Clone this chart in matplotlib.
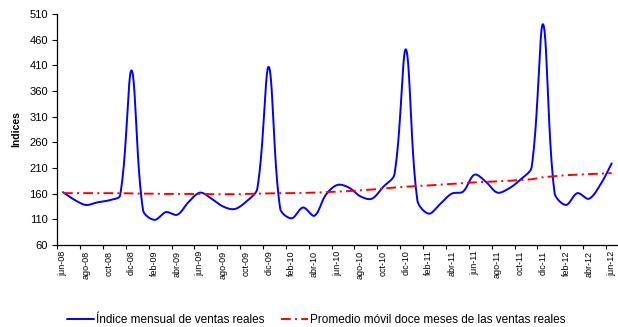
import numpy as np
import matplotlib
matplotlib.use("Agg")
import matplotlib.pyplot as plt

plt.rcParams['font.family'] = ['Liberation Sans', 'DejaVu Sans']

# Month labels, June 2008 – June 2012
months = ["jun-08", "jul-08", "ago-08", "sep-08", "oct-08", "nov-08", "dic-08",
          "ene-09", "feb-09", "mar-09", "abr-09", "may-09", "jun-09", "jul-09",
          "ago-09", "sep-09", "oct-09", "nov-09", "dic-09",
          "ene-10", "feb-10", "mar-10", "abr-10", "may-10", "jun-10", "jul-10",
          "ago-10", "sep-10", "oct-10", "nov-10", "dic-10",
          "ene-11", "feb-11", "mar-11", "abr-11", "may-11", "jun-11", "jul-11",
          "ago-11", "sep-11", "oct-11", "nov-11", "dic-11",
          "ene-12", "feb-12", "mar-12", "abr-12", "may-12", "jun-12"]

# Monthly real sales index
indice_mensual = [163, 148, 138, 143, 147, 157, 400,
                  128, 109, 124, 119, 144, 162, 150, 135, 130, 144, 170, 407,
                  131, 112, 133, 117, 158, 177, 172, 155, 150, 173, 198, 441,
                  147, 121, 140, 160, 164, 197, 183, 162, 170, 187, 212, 490,
                  162, 138, 161, 150, 177, 219]

# Twelve-month moving average of real sales
promedio_movil = [161, 161, 161, 161, 161, 161, 160.5,
                  160, 160, 159.5, 159.5, 159.5, 159.5, 159, 159, 159, 159.5, 160, 160.5,
                  161, 161, 161.5, 162, 163, 164, 165, 166.5, 168, 170, 172, 173.5,
                  175, 176, 177.5, 179, 180.5, 182, 183, 184, 185, 186.5, 188, 192,
                  194, 196, 197, 198, 199, 200]

y_ticks = list(range(60, 511, 50))


def smooth_curve(ax, y, n_sub=24, f=1.0 / 3.0):
    """Bezier smoothing in display space; control arms are weighted by the
    lengths of the adjoining segments so tall jumps do not overshoot."""
    y = np.asarray(y, dtype=float)
    x = np.arange(len(y), dtype=float)
    P = ax.transData.transform(np.column_stack([x, y]))
    n = len(P)
    c_out = np.zeros_like(P)
    c_in = np.zeros_like(P)
    for i in range(n):
        prev = P[max(i - 1, 0)]
        nxt = P[min(i + 1, n - 1)]
        T = nxt - prev
        d0 = np.hypot(*(P[i] - prev))
        d1 = np.hypot(*(nxt - P[i]))
        s = d0 + d1 if d0 + d1 > 0 else 1.0
        c_out[i] = P[i] + T * f * d1 / s
        c_in[i] = P[i] - T * f * d0 / s
    pts_all = []
    for i in range(n - 1):
        t = np.linspace(0, 1, n_sub, endpoint=(i == n - 2))[:, None]
        p1, c1, c2, p2 = P[i], c_out[i], c_in[i + 1], P[i + 1]
        pts = ((1 - t) ** 3) * p1 + 3 * ((1 - t) ** 2) * t * c1 \
            + 3 * (1 - t) * t ** 2 * c2 + t ** 3 * p2
        pts_all.append(pts)
    pts = np.vstack(pts_all)
    data = ax.transData.inverted().transform(pts)
    return data[:, 0], data[:, 1]


fig = plt.figure(figsize=(6.18, 3.27), dpi=100)
ax = fig.add_axes([0.0927, 0.2508, 0.9063, 0.7064])

n = len(months)
ax.set_xlim(-0.5, n - 0.5)
ax.set_ylim(60, 510)

sx, sy = smooth_curve(ax, indice_mensual)
ax.plot(sx, sy, color="#0000FF", lw=1.4, solid_capstyle="round",
        solid_joinstyle="round", label="Índice mensual de ventas reales")
ax.plot(np.arange(len(promedio_movil)), promedio_movil, color="#FF0000", lw=1.4,
        dashes=(5, 2.2, 1, 2.2),
        label="Promedio móvil doce meses de las ventas reales")

ax.set_yticks(y_ticks)
ax.set_yticklabels([str(v) for v in y_ticks], fontsize=8)

# Labels every two months, tick marks on category boundaries
ax.set_xticks(np.arange(0, n, 2))
ax.set_xticklabels(months[::2], rotation=90, fontsize=6.5)
ax.set_xticks(np.arange(-0.5, n - 1, 2), minor=True)
ax.tick_params(axis="x", which="major", length=0, pad=4)
ax.tick_params(axis="x", which="minor", length=3, width=0.8, direction="out")
ax.tick_params(axis="y", length=3.6, width=0.8, pad=3)

for side in ("top", "right"):
    ax.spines[side].set_visible(False)
for side in ("left", "bottom"):
    ax.spines[side].set_linewidth(0.9)

ax.set_ylabel("Indices", fontsize=7.5, fontweight="bold", labelpad=6)

fig.legend(loc="center", bbox_to_anchor=(0.512, 0.021), ncol=2, frameon=False,
           fontsize=8.5, handlelength=2.25, handletextpad=0.17, columnspacing=1.45,
           borderpad=0)

fig.savefig("out.png", dpi=100)
